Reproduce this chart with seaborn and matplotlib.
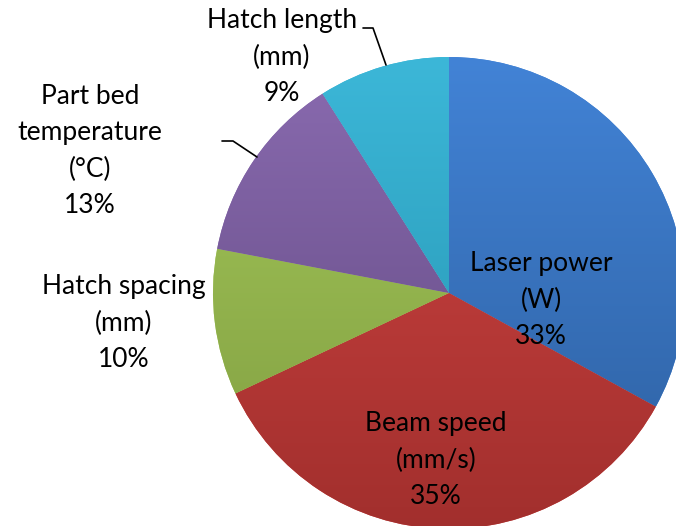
import numpy as np
import seaborn as sns
import matplotlib.pyplot as plt
from matplotlib.colors import LinearSegmentedColormap, to_rgb

# data
labels = ['Laser power\n(W)', 'Beam speed\n(mm/s)', 'Hatch spacing\n(mm)',
          'Part bed\ntemperature\n(°C)', 'Hatch length\n(mm)']
shares = [33, 35, 10, 13, 9]
top_colors = ['#4283d6', '#d04543', '#a5c95a', '#8a6bb0', '#3cb7d8']
bottom_colors = ['#2d5f9f', '#a22f2d', '#7f9c40', '#5f477e', '#2391ad']

sns.set_theme(style='white')
plt.rcParams['font.family'] = ['Lato', 'DejaVu Sans']

fig = plt.figure(figsize=(6.76, 5.26), dpi=100)
ax = fig.add_axes([0, 0, 1, 1])

cx, cy, r = 449, 233, 236
wedges, _ = ax.pie(shares, startangle=90, counterclock=False,
                   center=(cx, cy), radius=r, colors=top_colors,
                   wedgeprops=dict(linewidth=0))

# vertical gradient inside each slice
grad = np.linspace(0, 1, 256).reshape(-1, 1)
for w, c0, c1 in zip(wedges, top_colors, bottom_colors):
    cmap = LinearSegmentedColormap.from_list('g', [to_rgb(c1), to_rgb(c0)])
    im = ax.imshow(grad, cmap=cmap, extent=(cx - r, cx + r, cy - r, cy + r),
                   origin='lower', aspect='auto', zorder=w.get_zorder() + 0.1)
    im.set_clip_path(w)

ax.set_xlim(0, 676)
ax.set_ylim(0, 526)
ax.set_aspect('equal')
ax.axis('off')

# label positions (pixel coords, top-left origin)
pos = [(541, 300), (436, 460), (124, 323), (90, 151), (282, 57)]
for lab, s, (x, y) in zip(labels, shares, pos):
    ax.text(x, 526 - y, '{}\n{}%'.format(lab, s), ha='center', va='center',
            fontsize=19, color='black', linespacing=1.58, zorder=10)

# leader lines
ax.plot([363, 373, 386], [526 - 28, 526 - 28, 526 - 65], color='black', lw=1.2, zorder=10)
ax.plot([222, 233, 257], [526 - 141, 526 - 141, 526 - 157], color='black', lw=1.2, zorder=10)

fig.savefig('out.png', dpi=100)
